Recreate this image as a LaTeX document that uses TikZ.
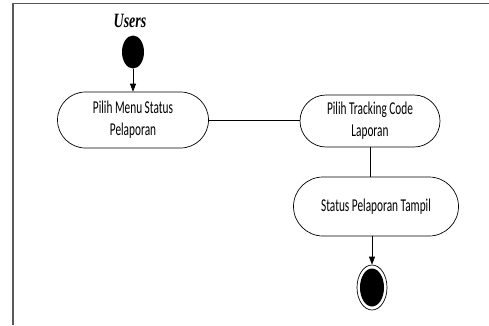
\documentclass[tikz,border=0pt]{standalone}
\usepackage{fontspec}
\setmainfont{Carlito}
\newfontfamily\usersfont{Liberation Serif}
\usetikzlibrary{arrows.meta,shapes.geometric,shapes.misc}
\newcommand{\tallline}[1]{\scalebox{1}[1.6]{#1}}
\begin{document}
\begin{tikzpicture}[x=1pt,y=-1pt,
  act/.style={draw,rounded rectangle,line width=0.7pt,font=\fontsize{11.3}{22}\selectfont,align=center,inner sep=0pt},
  conn/.style={line width=0.7pt},
  arr/.style={line width=0.7pt,-{Triangle[length=8pt,width=6pt]}}]
\useasboundingbox (0,0) rectangle (489,325);
\fill[white] (0,0) rectangle (489,325);
\draw[line width=1.6pt,color=black!65] (13,325) -- (13,3.5) -- (489,3.5);
\node[font=\usersfont\bfseries\itshape\fontsize{14}{16}\selectfont] (users) at (130,21) {\scalebox{1}[1.45]{Users}};
\node[ellipse,fill=black,minimum width=22pt,minimum height=33pt,inner sep=0pt] (start) at (133,52) {};
\node[act,minimum width=151pt,minimum height=56pt] (a1) at (133,120) {\tallline{Pilih Menu Status}\\\tallline{Pelaporan}};
\node[act,minimum width=140pt,minimum height=52pt] (a2) at (370,121) {\tallline{Pilih Tracking Code}\\\tallline{Laporan}};
\node[act,minimum width=165pt,minimum height=59pt] (a3) at (376,206.5) {\tallline{Status Pelaporan Tampil}};
\node[ellipse,draw,line width=0.7pt,minimum width=30pt,minimum height=45pt,inner sep=0pt] (end) at (372,287.5) {};
\node[ellipse,fill=black,minimum width=24pt,minimum height=38pt,inner sep=0pt] (endin) at (372,287.5) {};
\draw[arr] (start) -- (a1);
\draw[conn] (a1.east) -- (a1.east -| a2.west);
\draw[conn] (a2.south) -- (a2.south |- a3.north);
\draw[arr] (a3.south -| end) -- (end);
\end{tikzpicture}
\end{document}
